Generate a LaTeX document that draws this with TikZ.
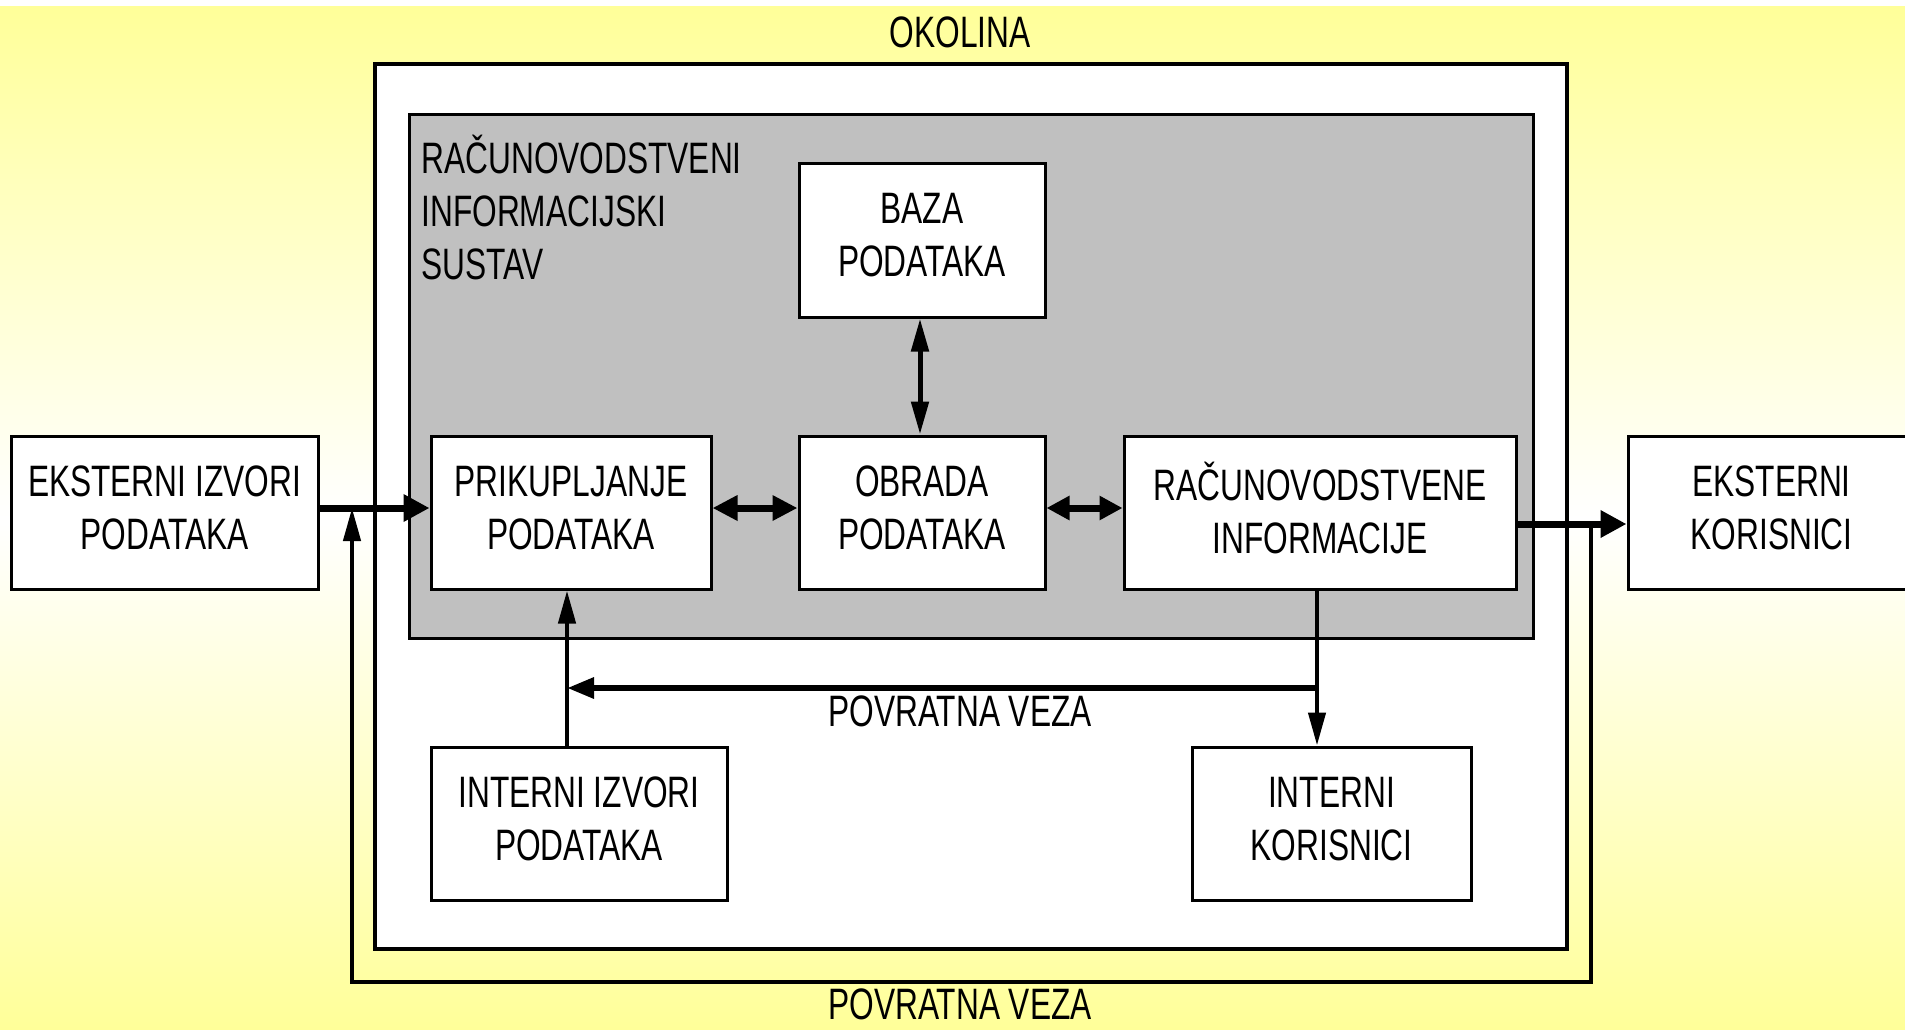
\documentclass[tikz,border=0pt]{standalone}
\usepackage{fontspec}
\setmainfont{Liberation Sans}[FakeStretch=0.72]
\usetikzlibrary{arrows.meta,shadows}
\definecolor{bgyellow}{HTML}{FFFF99}
\definecolor{sysgrey}{HTML}{C0C0C0}
\newcommand{\lowstrut}{\rule[-5pt]{0pt}{0pt}}
\begin{document}
\begin{tikzpicture}[x=0.5pt,y=-0.5pt,
  txt/.style={font=\fontsize{22}{26.5}\selectfont, align=center},
  shad/.style={drop shadow={shadow xshift=1pt,shadow yshift=-1pt,fill=black!45,opacity=1}},
  box/.style={draw, line width=1.5pt, fill=white, txt, inner sep=0pt, shad},
  thickarrow/.style={line width=3.5pt},
  thinline/.style={line width=2.2pt},
  slimtip/.tip={Triangle[length=16.5pt,width=8.5pt]}
]
% background
\fill[white] (0,0) rectangle (1905,1029);
\shade[top color=bgyellow, bottom color=bgyellow, middle color=white] (0,6) rectangle (1905,1029);
\useasboundingbox (0,0) rectangle (1905,1029);

% environment and system frames
\node[draw, line width=2pt, fill=white, shad, minimum width=596pt, minimum height=442.5pt, inner sep=0pt] (env) at (971,506.5) {};
\node[draw, line width=1.5pt, fill=sysgrey, minimum width=562pt, minimum height=262pt, inner sep=0pt] (sys) at (971,376) {};
\node[txt, align=left, anchor=north west, inner sep=0pt] (systitle) at (421,135) {RAČUNOVODSTVENI\\INFORMACIJSKI\\SUSTAV};

\node[txt] (okol) at (960,32) {OKOLINA};

% boxes
\node[box, minimum width=153.5pt, minimum height=76.5pt] (eiz) at (164.5,512.5) {EKSTERNI IZVORI\\PODATAKA\lowstrut};
\node[box, minimum width=140pt, minimum height=76.5pt] (prik) at (571,512.5) {PRIKUPLJANJE\\PODATAKA\lowstrut};
\node[box, minimum width=123pt, minimum height=76.5pt] (obr) at (922,512.5) {OBRADA\\PODATAKA\lowstrut};
\node[box, minimum width=196pt, minimum height=76.5pt] (rac) at (1320,512.5) {RAČUNOVODSTVENE\\INFORMACIJE\lowstrut};
\node[box, minimum width=143.5pt, minimum height=76.5pt] (ekor) at (1771.5,512.5) {EKSTERNI\\KORISNICI\lowstrut};
\node[box, minimum width=123pt, minimum height=77pt] (baza) at (922,240) {BAZA\\PODATAKA\lowstrut};
\node[box, minimum width=148pt, minimum height=76.5pt] (iiz) at (579,823.5) {INTERNI IZVORI\\PODATAKA\lowstrut};
\node[box, minimum width=139.5pt, minimum height=76.5pt] (ikor) at (1331.5,823.5) {INTERNI\\KORISNICI\lowstrut};

% helper coordinates
\coordinate (rowy) at (0,508);
\coordinate (outy) at (0,524);
\coordinate (fbr) at (1317,688);
\coordinate (fbl) at (567,688);
\coordinate (ofr) at (1591,982);
\coordinate (ofl) at (352,982);
\coordinate (baz) at (920,0);

% outer feedback loop
\draw[thinline, -{slimtip}] (outy -| ofr) -- (ofr) -- (ofl) -- (ofl |- rowy);

% main row arrows
\draw[thickarrow, -{Triangle[length=13pt,width=13pt]}] (eiz.east |- rowy) -- (prik.west |- rowy);
\draw[thickarrow, {Triangle[length=12.5pt,width=12pt]}-{Triangle[length=12.5pt,width=12pt]}] (prik.east |- rowy) -- (obr.west |- rowy);
\draw[thickarrow, {Triangle[length=11.5pt,width=11.5pt]}-{Triangle[length=11.5pt,width=11.5pt]}] (obr.east |- rowy) -- (rac.west |- rowy);
\draw[thickarrow, -{Triangle[length=13pt,width=13pt]}] (rac.east |- outy) -- (ekor.west |- outy);

% database link
\draw[line width=2.5pt, {slimtip}-{slimtip}] (baza.south -| baz) -- (obr.north -| baz);

% internal feedback
\draw[thinline, -{slimtip}] (rac.south -| fbr) -- (ikor.north -| fbr);
\draw[line width=3pt, -{Triangle[length=13.5pt,width=10pt]}] (fbr) -- (fbl);
\draw[thinline, -{slimtip}] (iiz.north -| fbl) -- (prik.south -| fbl);

\node[txt] (pv1) at (960,711) {POVRATNA VEZA};
\node[txt, inner sep=0pt] (pv2) at (960,1004) {POVRATNA VEZA};
\end{tikzpicture}
\end{document}
